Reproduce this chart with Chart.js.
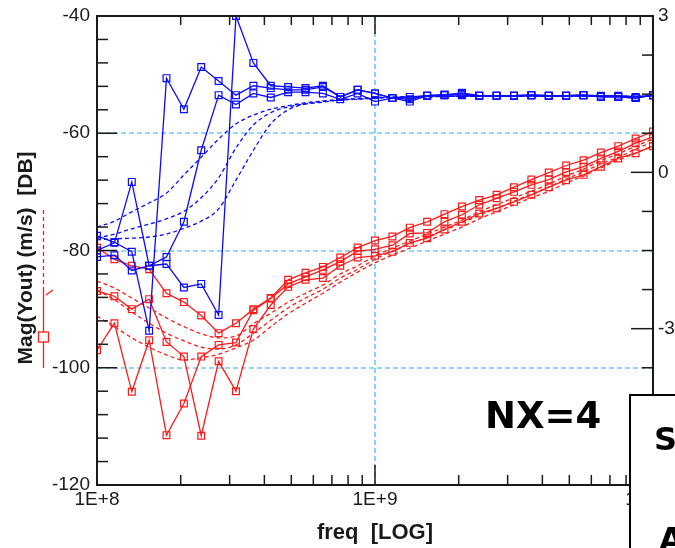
<!DOCTYPE html>
<html>
<head>
<meta charset="utf-8">
<script src="https://cdn.jsdelivr.net/npm/chart.js@4.4.1/dist/chart.umd.min.js"></script>
<style>
  html, body { margin: 0; padding: 0; background: #fff; }
  canvas { display: block; }
</style>
</head>
<body>
<canvas id="chart" width="675" height="548"></canvas>
<script>
// Sweep frequencies (Hz), 16 points per decade
const freqHz = [
  1.000e8, 1.155e8, 1.334e8, 1.540e8, 1.778e8, 2.054e8, 2.371e8, 2.738e8,
  3.162e8, 3.652e8, 4.217e8, 4.870e8, 5.623e8, 6.494e8, 7.499e8, 8.660e8,
  1.000e9, 1.155e9, 1.334e9, 1.540e9, 1.778e9, 2.054e9, 2.371e9, 2.738e9,
  3.162e9, 3.652e9, 4.217e9, 4.870e9, 5.623e9, 6.494e9, 7.499e9, 8.660e9,
  1.000e10
];

// Measured sweeps, blue (dB)
const blueSweep1 = [-81.1, -80.8, -83.4, -82.6, -82.3, -86.3, -85.7, -91.0, -40.0, -48.0, -51.9, -52.1, -52.3, -51.9, -53.8, -52.6, -53.2, -54.0, -54.2, -53.6, -53.5, -53.1, -53.6, -53.6, -53.6, -53.5, -53.6, -53.6, -53.5, -53.8, -53.8, -54.0, -53.5];
const blueSweep2 = [-77.5, -78.6, -80.2, -93.7, -50.6, -55.9, -48.7, -51.1, -53.5, -51.9, -52.3, -52.6, -52.6, -52.1, -53.8, -52.6, -53.2, -54.0, -53.8, -53.6, -53.4, -53.3, -53.6, -53.6, -53.6, -53.5, -53.6, -53.6, -53.5, -53.6, -53.6, -53.8, -53.5];
const blueSweep3 = [-80.0, -78.7, -68.3, -82.6, -81.1, -75.1, -62.9, -53.5, -55.1, -53.2, -53.9, -53.0, -53.0, -53.2, -54.2, -53.2, -54.6, -54.0, -54.6, -53.6, -53.5, -53.5, -53.6, -53.6, -53.6, -53.5, -53.6, -53.6, -53.5, -53.8, -53.8, -54.0, -53.5];

// Model curves, blue (dB)
const blueModel1 = [-76.0, -75.0, -73.4, -71.9, -70.2, -67.1, -64.1, -61.0, -58.4, -56.9, -55.9, -55.3, -54.8, -54.5, -54.2, -54.1, -53.9, -53.8, -53.8, -53.7, -53.7, -53.7, -53.7, -53.7, -53.7, -53.7, -53.7, -53.7, -53.7, -53.7, -53.7, -53.7, -53.7];
const blueModel2 = [-77.9, -77.2, -76.3, -75.5, -74.6, -73.3, -71.0, -67.6, -62.5, -58.6, -56.5, -55.5, -55.0, -54.7, -54.3, -54.2, -54.0, -53.9, -53.8, -53.8, -53.7, -53.7, -53.7, -53.7, -53.7, -53.7, -53.7, -53.7, -53.7, -53.7, -53.7, -53.7, -53.7];
const blueModel3 = [-78.2, -78.0, -77.9, -77.7, -77.2, -76.2, -75.0, -72.9, -68.0, -62.9, -58.4, -56.0, -55.0, -54.6, -54.3, -54.2, -54.0, -53.9, -53.8, -53.8, -53.7, -53.7, -53.7, -53.7, -53.7, -53.7, -53.7, -53.7, -53.7, -53.7, -53.7, -53.7, -53.7];

// Measured sweeps, red (dB)
const redSweep1 = [-79.5, -81.5, -82.6, -83.2, -87.3, -88.8, -91.1, -94.1, -92.4, -90.0, -88.1, -85.0, -83.8, -82.8, -81.2, -79.5, -78.3, -77.6, -76.1, -75.1, -73.8, -72.5, -71.4, -70.5, -69.2, -67.9, -66.7, -65.5, -64.6, -63.3, -62.2, -60.9, -59.7];
const redSweep2 = [-86.9, -87.8, -90.0, -88.3, -95.6, -98.1, -111.6, -98.9, -104.0, -93.4, -89.3, -86.2, -85.0, -84.7, -82.6, -81.2, -80.9, -80.2, -78.7, -77.9, -76.4, -75.1, -73.7, -72.8, -71.7, -70.5, -69.2, -68.0, -67.1, -65.7, -64.3, -63.4, -62.2];
const redSweep3 = [-97.0, -92.4, -104.1, -95.3, -111.5, -106.1, -98.1, -96.1, -95.7, -90.2, -88.2, -85.7, -84.5, -83.3, -81.9, -80.1, -79.8, -79.1, -77.1, -77.0, -75.1, -73.9, -72.2, -71.1, -70.0, -68.8, -67.9, -66.6, -65.7, -64.3, -63.1, -61.7, -60.6];

// Model curves, red (dB)
const redModel1 = [-85.2, -86.4, -88.1, -89.8, -91.5, -93.0, -94.2, -94.9, -94.6, -92.5, -90.7, -88.8, -87.3, -85.9, -84.0, -82.6, -80.9, -79.6, -78.4, -77.2, -76.0, -74.8, -73.4, -72.2, -71.0, -69.9, -68.7, -67.3, -66.1, -64.7, -63.5, -62.2, -61.0];
const redModel2 = [-86.7, -88.4, -90.5, -92.4, -94.1, -95.4, -96.5, -96.8, -96.1, -94.1, -91.9, -89.8, -88.1, -86.6, -84.7, -83.2, -81.5, -80.1, -78.9, -77.7, -76.5, -75.3, -74.0, -72.8, -71.6, -70.4, -69.2, -67.8, -66.6, -65.2, -64.1, -62.7, -61.5];
const redModel3 = [-91.2, -93.0, -94.9, -96.5, -97.8, -98.7, -98.3, -97.7, -96.6, -95.3, -93.0, -90.8, -89.0, -87.3, -85.4, -83.7, -82.1, -80.8, -79.6, -78.4, -77.2, -76.0, -74.6, -73.4, -72.2, -71.0, -69.9, -68.5, -67.3, -65.9, -64.6, -63.4, -62.2];

// Axis ticks
const xTickValues = [1e8, 1e9, 1e10];
const xTickLabels = ['1E+8', '1E+9', '1E+10'];
const xMinorTicks = [2e8, 3e8, 4e8, 5e8, 6e8, 7e8, 8e8, 9e8, 2e9, 3e9, 4e9, 5e9, 6e9, 7e9, 8e9, 9e9];
const yTickValues = [-120, -100, -80, -60, -40];
const yMinorTicks = [-116, -112, -108, -104, -96, -92, -88, -84, -76, -72, -68, -64, -56, -52, -48, -44];
const y2TickValues = [-6, -3, 0, 3];
const y2MinorTicks = [-5.25, -4.5, -3.75, -2.25, -1.5, -0.75, 0.75, 1.5, 2.25];

const BLUE = '#0a0aff';
const RED = '#ff1a1a';
const GRID = '#6ccafa';
const INK = '#1a1a1a';
const Y_TITLE = 'Mag(Yout) (m/s)  [DB]';

const pts = vals => vals.map((v, i) => ({ x: freqHz[i], y: v }));

function sweep(vals, color) {
  return {
    data: pts(vals), borderColor: color, borderWidth: 1.3,
    pointStyle: 'rect', pointRadius: 4.8, pointBorderWidth: 1.2,
    pointBorderColor: color, pointBackgroundColor: 'rgba(255,255,255,0)',
    tension: 0
  };
}
function model(vals, color) {
  return {
    data: pts(vals), borderColor: color, borderWidth: 1.3,
    borderDash: [4, 3], pointRadius: 0, cubicInterpolationMode: 'monotone'
  };
}

// Dashed grid at the interior major ticks, under the data
const gridLines = {
  id: 'gridLines',
  beforeDatasetsDraw(chart) {
    const { ctx, chartArea: a, scales } = chart;
    ctx.save();
    ctx.strokeStyle = GRID;
    ctx.lineWidth = 1.6;
    ctx.setLineDash([5, 3]);
    xTickValues.slice(1, -1).forEach(v => {
      const px = Math.round(scales.x.getPixelForValue(v));
      ctx.beginPath(); ctx.moveTo(px, a.top); ctx.lineTo(px, a.bottom); ctx.stroke();
    });
    yTickValues.slice(1, -1).forEach(v => {
      const py = Math.round(scales.y.getPixelForValue(v));
      ctx.beginPath(); ctx.moveTo(a.left, py); ctx.lineTo(a.right, py); ctx.stroke();
    });
    ctx.restore();
  }
};

// Frame, inward tick marks, titles, annotation, side legend and the info box
const decorations = {
  id: 'decorations',
  afterDraw(chart) {
    const { ctx, chartArea: a, scales } = chart;
    const sx = scales.x, sy = scales.y, sy2 = scales.y2;
    ctx.save();
    ctx.strokeStyle = INK;
    ctx.lineWidth = 1.5;
    const line = (x1, y1, x2, y2) => { ctx.beginPath(); ctx.moveTo(x1, y1); ctx.lineTo(x2, y2); ctx.stroke(); };

    xMinorTicks.forEach(v => {
      const px = sx.getPixelForValue(v);
      line(px, a.bottom, px, a.bottom - 10);
      line(px, a.top, px, a.top + 9);
    });
    xTickValues.slice(1, -1).forEach(v => {
      const px = sx.getPixelForValue(v);
      line(px, a.bottom, px, a.bottom - 20);
      line(px, a.top, px, a.top + 18);
    });
    yMinorTicks.forEach(v => {
      const py = sy.getPixelForValue(v);
      line(a.left, py, a.left + 11, py);
    });
    yTickValues.slice(1, -1).forEach(v => {
      const py = sy.getPixelForValue(v);
      line(a.left, py, a.left + 20, py);
    });
    y2MinorTicks.forEach(v => {
      const py = sy2.getPixelForValue(v);
      line(a.right, py, a.right - 11, py);
    });
    y2TickValues.slice(1, -1).forEach(v => {
      const py = sy2.getPixelForValue(v);
      line(a.right, py, a.right - 22, py);
    });

    // plot frame
    ctx.lineWidth = 2;
    ctx.strokeRect(a.left, a.top, a.right - a.left, a.bottom - a.top);

    // y axis title
    ctx.save();
    ctx.translate(26, 258);
    ctx.rotate(-Math.PI / 2);
    ctx.fillStyle = INK;
    ctx.font = 'bold 21px "Liberation Sans", Arial, sans-serif';
    ctx.textAlign = 'center';
    ctx.textBaseline = 'middle';
    ctx.fillText(Y_TITLE, 0, 0);
    ctx.restore();

    // side legend glyph next to the y title
    ctx.strokeStyle = RED;
    ctx.lineWidth = 1.3;
    ctx.setLineDash([4, 3]);
    line(43.5, 210, 43.5, 291);
    ctx.setLineDash([]);
    line(43.5, 291, 43.5, 368);
    line(46, 295, 53, 290);
    ctx.fillStyle = '#fff';
    ctx.fillRect(38.5, 332, 10, 10);
    ctx.strokeRect(38.5, 332, 10, 10);

    // annotation
    ctx.fillStyle = '#000';
    ctx.font = 'bold 37px "DejaVu Sans"';
    ctx.textAlign = 'left';
    ctx.textBaseline = 'alphabetic';
    ctx.fillText('NX=4', 485, 428);

    // info box in the lower right corner
    const bx = a.right - 23, by = 395;
    ctx.fillStyle = '#fff';
    ctx.fillRect(bx, by, 80, 200);
    ctx.strokeStyle = '#000';
    ctx.lineWidth = 2;
    ctx.strokeRect(bx, by, 80, 200);
    ctx.fillStyle = '#000';
    ctx.font = 'bold 32px "DejaVu Sans"';
    ctx.fillText('S', bx + 24, by + 55);
    ctx.fillText('A', bx + 29, by + 155);
    ctx.restore();
  }
};

const tickFont = { family: '"Liberation Sans", Arial, sans-serif', size: 19 };
const noPad = s => { s.paddingLeft = 0; s.paddingRight = 0; s.paddingTop = 0; s.paddingBottom = 0; };

new Chart(document.getElementById('chart'), {
  type: 'line',
  data: {
    datasets: [
      sweep(blueSweep1, BLUE), sweep(blueSweep2, BLUE), sweep(blueSweep3, BLUE),
      model(blueModel1, BLUE), model(blueModel2, BLUE), model(blueModel3, BLUE),
      sweep(redSweep1, RED), sweep(redSweep2, RED), sweep(redSweep3, RED),
      model(redModel1, RED), model(redModel2, RED), model(redModel3, RED)
    ]
  },
  options: {
    responsive: false,
    animation: false,
    devicePixelRatio: 1,
    events: [],
    layout: { padding: { top: 16, left: 0, right: 0, bottom: 0 } },
    plugins: { legend: { display: false }, tooltip: { enabled: false } },
    scales: {
      x: {
        type: 'logarithmic', position: 'bottom', min: 1e8, max: 1e10,
        afterBuildTicks: s => { s.ticks = xTickValues.map(v => ({ value: v })); },
        afterFit: s => { s.height = 63; noPad(s); },
        ticks: {
          callback: (v, i) => xTickLabels[i], font: tickFont, color: INK,
          padding: 3, maxRotation: 0, autoSkip: false
        },
        grid: { display: false, drawTicks: false },
        border: { display: false },
        title: {
          display: true, text: 'freq  [LOG]', color: INK,
          font: { family: '"Liberation Sans", Arial, sans-serif', size: 22, weight: 'bold' },
          padding: { top: 0, bottom: 2 }
        }
      },
      y: {
        position: 'left', min: -120, max: -40,
        afterBuildTicks: s => { s.ticks = yTickValues.map(v => ({ value: v })); },
        afterFit: s => { s.width = 97; noPad(s); },
        ticks: { font: tickFont, color: INK, padding: 7 },
        grid: { display: false, drawTicks: false },
        border: { display: false }
      },
      y2: {
        position: 'right', min: -6, max: 3,
        afterBuildTicks: s => { s.ticks = y2TickValues.map(v => ({ value: v })); },
        afterFit: s => { s.width = 22; noPad(s); },
        ticks: { font: tickFont, color: INK, padding: 5, callback: v => String(v) },
        grid: { display: false, drawTicks: false },
        border: { display: false }
      }
    }
  },
  plugins: [gridLines, decorations]
});
</script>
</body>
</html>
